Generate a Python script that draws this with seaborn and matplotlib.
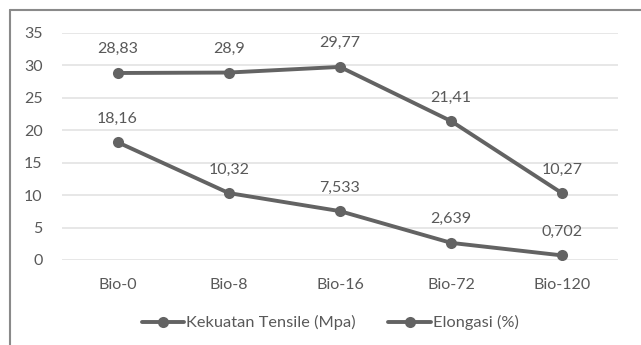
import pandas as pd
import matplotlib
matplotlib.use("Agg")
import matplotlib.pyplot as plt
import seaborn as sns

categories = ["Bio-0", "Bio-8", "Bio-16", "Bio-72", "Bio-120"]
kekuatan = [28.83, 28.9, 29.77, 21.41, 10.27]
elongasi = [18.16, 10.32, 7.533, 2.639, 0.702]
series_names = ["Kekuatan Tensile (Mpa)", "Elongasi (%)"]

data = pd.DataFrame({
    "Sampel": categories * 2,
    "Nilai": kekuatan + elongasi,
    "Seri": [series_names[0]] * len(categories) + [series_names[1]] * len(categories),
})

sns.set_style("white")
plt.rcParams['font.family'] = ['Lato', 'DejaVu Sans']
txt_color = '#595959'
line_color = '#636363'

fig = plt.figure(figsize=(6.41, 3.45), dpi=100)
ax = fig.add_axes([0.0967, 0.2464, 0.8673, 0.658])

sns.lineplot(ax=ax, data=data, x="Sampel", y="Nilai", hue="Seri",
             palette=[line_color, line_color], marker='o', markersize=8,
             markeredgewidth=0, linewidth=2.8, sort=False)

for name, vals in zip(series_names, [kekuatan, elongasi]):
    for i, v in enumerate(vals):
        ax.annotate(str(v).replace('.', ','), (i, v), xytext=(0, 17),
                    textcoords='offset points', ha='center', va='center',
                    fontsize=11.5, color=txt_color)

ax.set_xlim(-0.5, 4.5)
ax.set_ylim(0, 35)
ax.set_yticks(range(0, 36, 5))
ax.yaxis.grid(True, color='#e3e3e3', linewidth=1.2)
ax.set_axisbelow(True)
for s in ax.spines.values():
    s.set_visible(False)
ax.tick_params(axis='both', length=0, labelsize=11.5, colors=txt_color)
ax.tick_params(axis='x', pad=13)
ax.tick_params(axis='y', pad=14)
ax.set_xlabel('')
ax.set_ylabel('')

ax.get_legend().remove()
handles, labels = ax.get_legend_handles_labels()
fig.legend(handles, labels, loc='center', bbox_to_anchor=(0.515, 0.064), ncol=2,
           frameon=False, fontsize=11.8, labelcolor=txt_color, handlelength=2.6,
           handletextpad=0.1, columnspacing=2.0)

# frame of the chart area (top and left edges are visible in the crop)
fig.add_artist(plt.Line2D([0.0156, 1.0], [0.971, 0.971], transform=fig.transFigure,
                          color='#8a8a8a', linewidth=1.5))
fig.add_artist(plt.Line2D([0.0156, 0.0156], [0.0, 0.971], transform=fig.transFigure,
                          color='#8a8a8a', linewidth=1.5))

fig.savefig("out.png", dpi=100)
